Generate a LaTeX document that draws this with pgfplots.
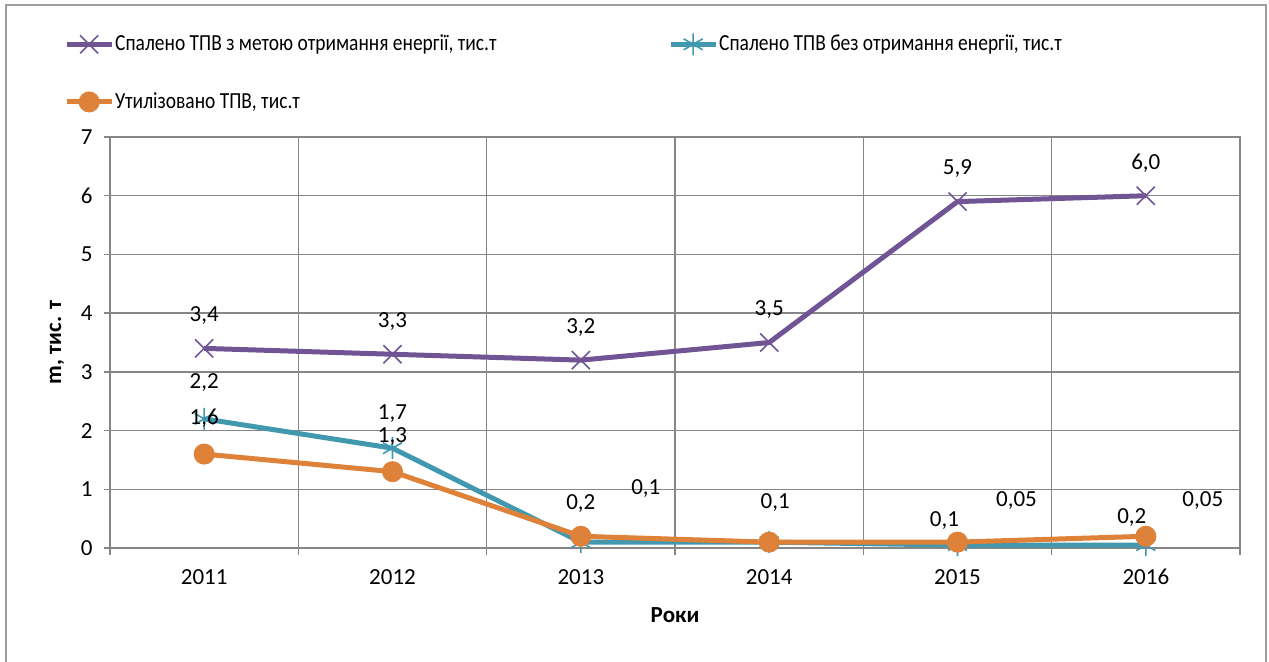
\documentclass[border=0pt]{standalone}
\usepackage{pgfplots}
\pgfplotsset{compat=1.18}
\usepackage{pgfplotstable}
\usepackage{fontspec}
\setmainfont{Carlito}
\definecolor{cpurple}{RGB}{112,84,148}
\definecolor{cteal}{RGB}{65,152,175}
\definecolor{corange}{RGB}{222,129,57}
\definecolor{cgrid}{RGB}{134,134,134}

\pgfplotstableread{
x y label dx dy
0 3.4 3,4 0 16.5
1 3.3 3,3 0 16.5
2 3.2 3,2 0 16.5
3 3.5 3,5 0 16.5
4 5.9 5,9 0 16.5
5 6.0 6,0 0 16.5
}\tabA
\pgfplotstableread{
x y label dx dy
0 2.2 2,2 0 18
1 1.7 1,7 0 17.5
2 0.1 0,1 32.5 27
3 0.1 {} 0 0
4 0.05 0,05 29.5 22.5
5 0.05 0,05 28.5 22.5
}\tabB
\pgfplotstableread{
x y label dx dy
0 1.6 1,6 0 18
1 1.3 1,3 0 17.5
2 0.2 0,2 0 16.5
3 0.1 0,1 3 20
4 0.1 0,1 -6.5 11
5 0.2 0,2 -7 9.5
}\tabC

\newcommand{\leg}[1]{\scalebox{0.846}[1]{#1}}

\begin{document}
\fontsize{11.5}{14}\selectfont
\begin{tikzpicture}
\path[use as bounding box] (0,0) rectangle (634.5pt,330.5pt);
\draw[cgrid!80, line width=0.75pt] (3pt,-5pt) rectangle (633pt,328pt);
\begin{axis}[
  at={(55pt,56.5pt)}, anchor=south west,
  scale only axis, width=565pt, height=205.5pt,
  xmin=-0.5, xmax=5.5, ymin=0, ymax=7,
  xtick={0,1,2,3,4,5},
  xticklabels={2011,2012,2013,2014,2015,2016},
  minor xtick={-0.5,0.5,1.5,2.5,3.5,4.5,5.5},
  ytick={0,1,2,3,4,5,6,7},
  yticklabels={0,1,2,3,4,5,6,7},
  xmajorgrids=false, xminorgrids=true, ymajorgrids=true,
  minor grid style={cgrid, line width=0.75pt},
  major grid style={cgrid, line width=0.75pt},
  axis line style={cgrid, line width=0.75pt},
  tick pos=left, tick align=outside,
  major x tick style={draw=none},
  minor x tick style={cgrid, line width=0.75pt},
  major y tick style={cgrid, line width=0.75pt},
  major tick length=3pt, minor tick length=3.5pt,
  xticklabel style={anchor=north, inner sep=0pt, yshift=-7.5pt},
  yticklabel style={anchor=east, inner sep=0pt, xshift=-5.5pt},
  xlabel={\textbf{Роки}},
  ylabel={\textbf{m, тис. т}},
  xlabel style={at={(axis description cs:0.5,-0.163)}, anchor=center},
  ylabel style={at={(axis description cs:-0.047,0.5)}, anchor=center},
  clip=false,
  legend columns=2,
  legend cell align=left,
  legend style={at={(axis description cs:-0.0462,1.263)}, anchor=north west,
    draw=none, fill=none, row sep=18pt,
    nodes={inner sep=0.5pt}},
  legend image code/.code={\draw[mark repeat=2,mark phase=2] plot coordinates {(0pt,0pt)(11.25pt,0pt)(22.5pt,0pt)};},
]
\addplot[cpurple, line width=2.5pt, mark=x, mark size=6.4pt, mark options={line width=0.8pt},
  nodes near coords, point meta=explicit symbolic,
  visualization depends on={\thisrow{dx} \as \dx},
  visualization depends on={\thisrow{dy} \as \dy},
  every node near coord/.append style={anchor=center, text=black, inner sep=0pt, xshift=\dx pt, yshift=\dy pt}]
  table[x=x, y=y, meta=label] {\tabA};
\addlegendentry{\makebox[276pt][l]{\leg{Спалено ТПВ з метою отримання енергії, тис.т}}}
\addplot[cteal, line width=2.5pt, mark=asterisk, mark size=5.5pt, mark options={line width=0.8pt},
  nodes near coords, point meta=explicit symbolic,
  visualization depends on={\thisrow{dx} \as \dx},
  visualization depends on={\thisrow{dy} \as \dy},
  every node near coord/.append style={anchor=center, text=black, inner sep=0pt, xshift=\dx pt, yshift=\dy pt}]
  table[x=x, y=y, meta=label] {\tabB};
\addlegendentry{\leg{Спалено ТПВ без отримання енергії, тис.т}}
\addplot[corange, line width=2.5pt, mark=*, mark size=5pt, mark options={fill=corange, draw=corange, line width=0.5pt},
  nodes near coords, point meta=explicit symbolic,
  visualization depends on={\thisrow{dx} \as \dx},
  visualization depends on={\thisrow{dy} \as \dy},
  every node near coord/.append style={anchor=center, text=black, inner sep=0pt, xshift=\dx pt, yshift=\dy pt}]
  table[x=x, y=y, meta=label] {\tabC};
\addlegendentry{\leg{Утилізовано ТПВ, тис.т}}
\end{axis}
\end{tikzpicture}
\end{document}
